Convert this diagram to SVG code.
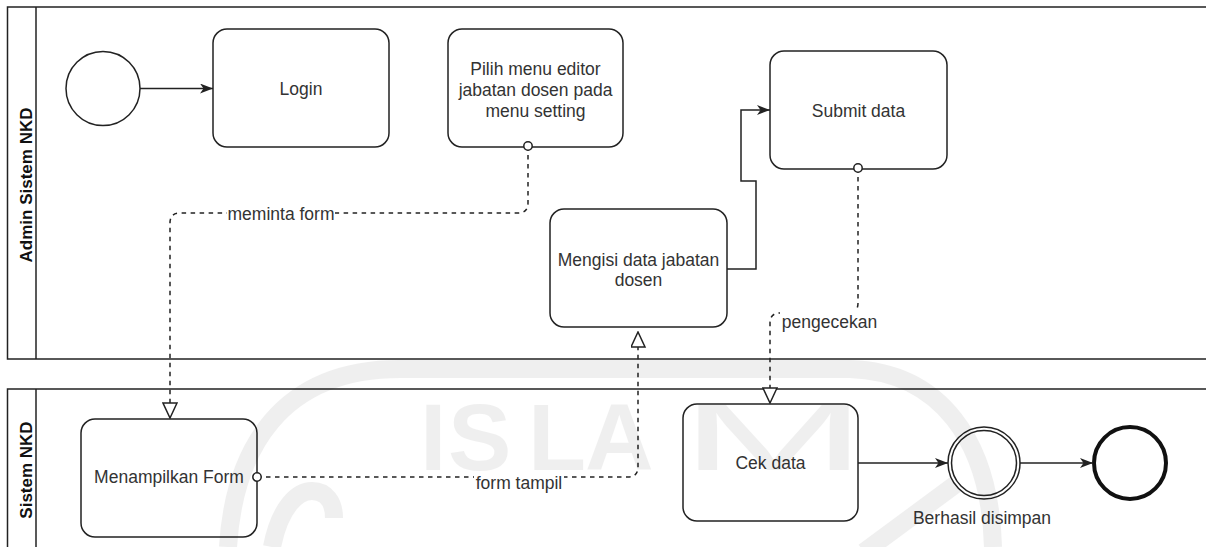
<svg xmlns="http://www.w3.org/2000/svg" width="1206" height="547" viewBox="0 0 1206 547">
  <defs>
    <style>
      .lane { fill: #ffffff; stroke: #222222; stroke-width: 1.5; }
      .hdr { stroke: #222222; stroke-width: 1.5; }
      .task { fill: #ffffff; stroke: #222222; stroke-width: 1.5; }
      .evt { fill: #ffffff; stroke: #222222; stroke-width: 1.5; }
      .end { fill: #ffffff; stroke: #111111; stroke-width: 4; }
      .txt { font-family: "Liberation Sans", Arial, sans-serif; font-size: 17.5px; fill: #333333; text-anchor: middle; }
      .lanetxt { font-family: "Liberation Sans", Arial, sans-serif; font-size: 17px; font-weight: bold; fill: #111111; text-anchor: middle; }
      .seq { fill: none; stroke: #222222; stroke-width: 1.5; }
      .msg { fill: none; stroke: #222222; stroke-width: 1.5; stroke-dasharray: 4.5 4.5; }
      .lblbg { fill: #ffffff; }
      .wm { fill: none; stroke: #000000; stroke-width: 18; }
      .wmtxt { font-family: "Liberation Sans", Arial, sans-serif; font-size: 95px; fill: #000000; }
    </style>
    <marker id="arrow" markerUnits="userSpaceOnUse" markerWidth="14" markerHeight="11" refX="13" refY="5" orient="auto">
      <path d="M0,0 L13,5 L0,10 L3.5,5 Z" fill="#222222"/>
    </marker>
    <marker id="openTri" markerUnits="userSpaceOnUse" markerWidth="17" markerHeight="16" refX="16" refY="7.5" orient="auto">
      <path d="M1,0.5 L16,7.5 L1,14.5 Z" fill="#ffffff" stroke="#222222" stroke-width="1.5"/>
    </marker>
    <marker id="oval" markerUnits="userSpaceOnUse" markerWidth="12" markerHeight="12" refX="6" refY="6" orient="auto">
      <circle cx="6" cy="6" r="4.2" fill="#ffffff" stroke="#222222" stroke-width="1.5"/>
    </marker>
  </defs>

  <rect width="1206" height="547" fill="#ffffff"/>

  <!-- swimlanes -->
  <g id="lane-admin">
    <rect class="lane" x="7.5" y="7" width="1210" height="352"/>
    <line class="hdr" x1="36" y1="7" x2="36" y2="359"/>
    <text class="lanetxt" transform="translate(32,185) rotate(-90)">Admin Sistem NKD</text>
  </g>
  <g id="lane-sistem">
    <rect class="lane" x="7.5" y="389" width="1210" height="200"/>
    <line class="hdr" x1="36" y1="389" x2="36" y2="547"/>
    <text class="lanetxt" transform="translate(32,470) rotate(-90)">Sistem NKD</text>
  </g>

  <!-- nodes -->
  <g id="start">
    <circle class="evt" cx="103" cy="88.5" r="37"/>
  </g>
  <g id="login">
    <rect class="task" x="213" y="29" width="176" height="118" rx="14"/>
    <text class="txt" x="301" y="94.5">Login</text>
  </g>
  <g id="pilih-menu">
    <rect class="task" x="448" y="29" width="175" height="118" rx="14"/>
    <text class="txt" x="535.5" y="75">Pilih menu editor</text>
    <text class="txt" x="535.5" y="96">jabatan dosen pada</text>
    <text class="txt" x="535.5" y="117">menu setting</text>
  </g>
  <g id="submit-data">
    <rect class="task" x="770" y="51" width="177" height="118" rx="14"/>
    <text class="txt" x="858.5" y="116.5">Submit data</text>
  </g>
  <g id="mengisi-data">
    <rect class="task" x="550" y="209" width="177" height="118" rx="14"/>
    <text class="txt" x="638.5" y="265.5">Mengisi data jabatan</text>
    <text class="txt" x="638.5" y="286">dosen</text>
  </g>
  <g id="menampilkan-form">
    <rect class="task" x="81" y="419" width="176" height="118" rx="14"/>
    <text class="txt" x="169" y="483">Menampilkan Form</text>
  </g>
  <g id="cek-data">
    <rect class="task" x="683" y="404" width="175" height="117" rx="14"/>
    <text class="txt" x="770.5" y="469">Cek data</text>
  </g>
  <g id="berhasil-disimpan">
    <circle class="evt" cx="984" cy="463" r="36"/>
    <circle class="evt" cx="984" cy="463" r="32.5"/>
    <text class="txt" x="982" y="524">Berhasil disimpan</text>
  </g>
  <g id="end">
    <circle class="end" cx="1130" cy="463" r="36"/>
  </g>

  <!-- connectors -->
  <g id="connectors">
    <path class="seq" d="M140 88.5 L213 88.5" marker-end="url(#arrow)"/>
    <path class="seq" d="M727 269 L756 269 L756 181 L741 181 L741 110 L770 110" marker-end="url(#arrow)"/>
    <path class="seq" d="M858 463 L948 463" marker-end="url(#arrow)"/>
    <path class="seq" d="M1020 463 L1093 463" marker-end="url(#arrow)"/>

    <path class="msg" d="M528 146 L528 203 Q528 213 518 213 L180 213 Q170 213 170 223 L170 418" marker-start="url(#oval)" marker-end="url(#openTri)"/>
    <rect class="lblbg" x="227" y="205" width="108" height="20"/>
    <text class="txt" x="281" y="220">meminta form</text>

    <path class="msg" d="M257 477 L628 477 Q638 477 638 467 L638 332" marker-start="url(#oval)" marker-end="url(#openTri)"/>
    <rect class="lblbg" x="474" y="474" width="90" height="20"/>
    <text class="txt" x="519" y="489">form tampil</text>

    <path class="msg" d="M858 168 L858 303 Q858 313 848 313 L780 313 Q770 313 770 323 L770 403" marker-start="url(#oval)" marker-end="url(#openTri)"/>
    <rect class="lblbg" x="780" y="309" width="99" height="25"/>
    <text class="txt" x="829.5" y="328">pengecekan</text>
  </g>

  <!-- faint watermark printed over the page -->
  <g id="watermark" opacity="0.06">
    <path class="wm" d="M228 547 C234 450 280 369 400 369 L850 369 C940 372 990 440 993 547"/>
    <path class="wm" d="M272 547 C280 506 298 491 312 491 C326 491 334 502 334 518"/>
    <path class="wm" d="M864 552 L956 484"/>
    <text class="wmtxt" x="420 448 528 585" y="470" font-weight="bold">ISLA</text>
    <text class="wmtxt" x="680" y="470" textLength="187" lengthAdjust="spacingAndGlyphs">M</text>
  </g>
</svg>
